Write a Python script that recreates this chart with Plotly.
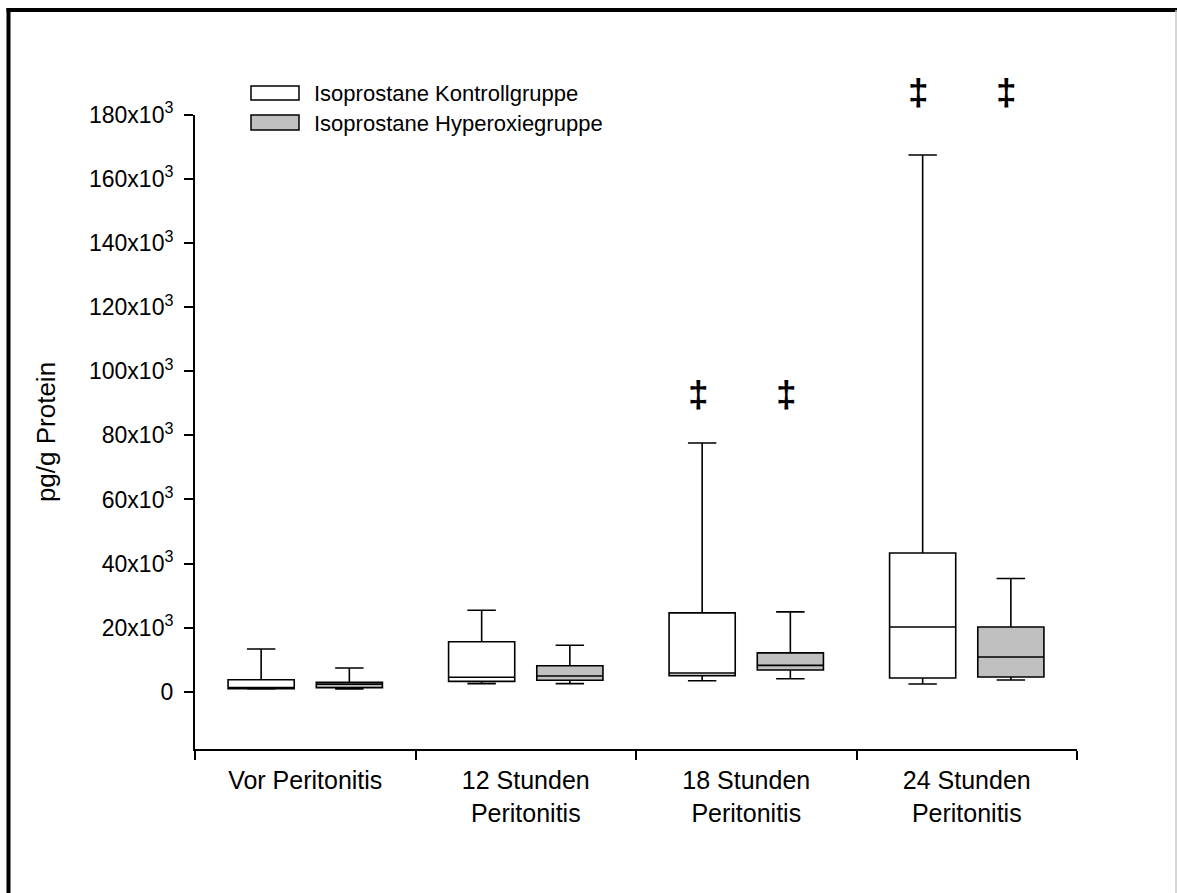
import plotly.graph_objects as go

# ---------------- data ----------------
categories = ["Vor Peritonitis", "12 Stunden<br>Peritonitis",
              "18 Stunden<br>Peritonitis", "24 Stunden<br>Peritonitis"]

kontroll_lower = [840, 2500, 3400, 2400]
kontroll_q1 = [950, 3200, 5000, 4270]
kontroll_median = [1150, 4500, 5800, 20200]
kontroll_q3 = [3700, 15600, 24600, 43300]
kontroll_upper = [13300, 25400, 77600, 167500]

hyper_lower = [840, 2500, 4050, 3640]
hyper_q1 = [1250, 3550, 6760, 4580]
hyper_median = [2300, 4900, 8200, 10800]
hyper_q3 = [2900, 8100, 12100, 20200]
hyper_upper = [7400, 14500, 24900, 35300]

series_names = ["Isoprostane Kontrollgruppe", "Isoprostane Hyperoxiegruppe"]
series_fill = ["#ffffff", "#c0c0c0"]

y_tickvals = [0, 20000, 40000, 60000, 80000, 100000, 120000, 140000, 160000, 180000]
y_ticktext = ["0"] + [f"{v // 1000}x10<sup>3</sup>" for v in y_tickvals[1:]]
y_range = [-17900, 180000]

# significance markers (category index, group side, y value)
sig_cat = [2, 2, 3, 3]
sig_side = [-1, 1, -1, 1]
sig_y = [92900, 92900, 187000, 187000]

# ---------------- layout geometry ----------------
W, H = 1177, 893
L, R, T, B = 195, 100, 115, 144
PW, PH = W - L - R, H - T - B


def px(x):
    return (x - L) / PW


def py(y):
    return (H - B - y) / PH


def y_to_paper(v):
    return (v - y_range[0]) / (y_range[1] - y_range[0])


fig = go.Figure()

stats = [
    (kontroll_lower, kontroll_q1, kontroll_median, kontroll_q3, kontroll_upper),
    (hyper_lower, hyper_q1, hyper_median, hyper_q3, hyper_upper),
]
for name, fill, (lo, q1, med, q3, up) in zip(series_names, series_fill, stats):
    fig.add_trace(go.Box(
        name=name,
        x=categories,
        lowerfence=lo, q1=q1, median=med, q3=q3, upperfence=up,
        fillcolor=fill,
        line=dict(color="#000000", width=1.6),
        whiskerwidth=0.43,
        boxpoints=False,
        showlegend=False,
        hoverinfo="skip",
    ))

font_main = "Arial, Liberation Sans, sans-serif"

annotations = []
for c, s, yv in zip(sig_cat, sig_side, sig_y):
    annotations.append(dict(
        x=c + 0.2 * s, y=y_to_paper(yv), xref="x", yref="paper",
        text="‡", showarrow=False, xshift=-4,
        font=dict(family=font_main, size=37, color="#000", weight="bold"),
        xanchor="center", yanchor="middle",
    ))

# manual legend
legend_rows = [(86, 100, 93), (115, 130, 123)]
shapes = []
for (y0, y1, yc), name, fill in zip(legend_rows, series_names, series_fill):
    shapes.append(dict(type="rect", xref="paper", yref="paper",
                       x0=px(251), x1=px(299), y0=py(y1), y1=py(y0),
                       fillcolor=fill, line=dict(color="#000", width=1.5)))
    annotations.append(dict(x=px(312), y=py(yc), xref="paper", yref="paper",
                            text=name, showarrow=False, xanchor="left", yanchor="middle",
                            font=dict(family=font_main, size=22, color="#000")))

# frame around the picture
shapes.append(dict(type="line", xref="paper", yref="paper",
                   x0=px(8.5), x1=px(8.5), y0=py(8), y1=py(H + 5),
                   line=dict(color="#000", width=4)))
shapes.append(dict(type="line", xref="paper", yref="paper",
                   x0=px(6.5), x1=px(W + 5), y0=py(10), y1=py(10),
                   line=dict(color="#000", width=4)))
shapes.append(dict(type="line", xref="paper", yref="paper",
                   x0=px(1176), x1=px(1176), y0=py(10), y1=py(H + 5),
                   line=dict(color="#c8c8c8", width=1.5)))

fig.update_layout(
    width=W, height=H,
    margin=dict(l=L, r=R, t=T, b=B, pad=0),
    paper_bgcolor="#ffffff", plot_bgcolor="#ffffff",
    boxmode="group", boxgap=0.2, boxgroupgap=0.25,
    font=dict(family=font_main, color="#000"),
    shapes=shapes,
    annotations=annotations,
    xaxis=dict(
        type="category", range=[-0.5, 3.5],
        showline=True, linecolor="#000", linewidth=2,
        ticks="outside", tickson="boundaries", ticklen=9, tickwidth=2, tickcolor="#000",
        ticklabelstandoff=8,
        showgrid=False, zeroline=False,
        tickfont=dict(family=font_main, size=25, color="#000"),
        fixedrange=True,
    ),
    yaxis=dict(
        range=y_range,
        showline=True, linecolor="#000", linewidth=2,
        ticks="outside", ticklen=9, tickwidth=2, tickcolor="#000",
        tickvals=y_tickvals, ticktext=y_ticktext,
        ticklabelstandoff=6,
        showgrid=False, zeroline=False,
        tickfont=dict(family=font_main, size=23, color="#000"),
        title=dict(text="pg/g Protein", font=dict(family=font_main, size=26, color="#000"),
                   standoff=26),
        fixedrange=True,
    ),
)

fig.write_html("out.html")
